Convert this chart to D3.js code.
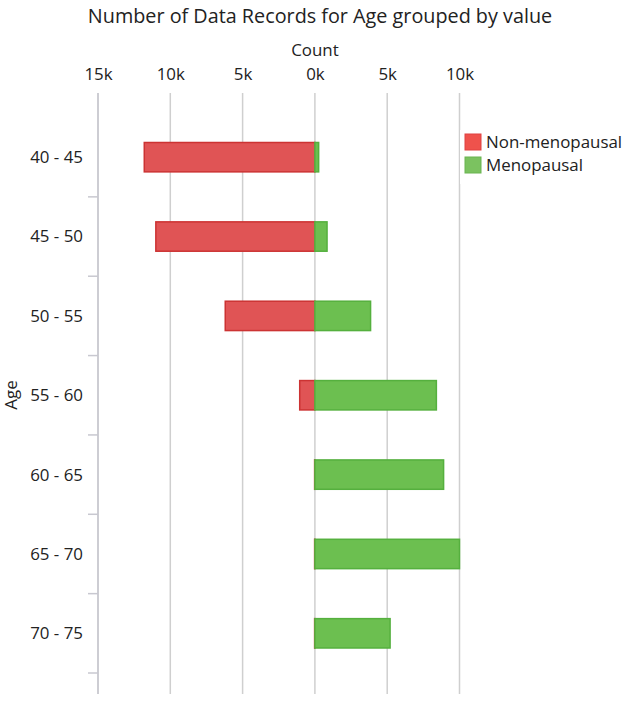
<!DOCTYPE html>
<html><head><meta charset="utf-8">
<script src="https://cdn.jsdelivr.net/npm/d3@7"></script>
<style>body{margin:0;background:#fff;} svg{display:block;} text{font-family:"Open Sans",sans-serif;fill:#222;}</style>
</head><body>
<script>
const categories = ["40 - 45","45 - 50","50 - 55","55 - 60","60 - 65","65 - 70","70 - 75"];
const nonMenopausal = [11800, 11000, 6200, 1050, 20, 20, 20];
const menopausal = [260, 840, 3850, 8400, 8900, 10000, 5200];
const xTicks = [-15000, -10000, -5000, 0, 5000, 10000];
const seriesNames = ["Non-menopausal", "Menopausal"];

const W = 633, H = 702;
const FS = 16.9;
const svg = d3.select("body").append("svg").attr("width", W).attr("height", H);

const x = d3.scaleLinear().domain([-15000, 10000]).range([98, 459.5]);
const y = d3.scaleBand().domain(categories).range([117.5, 673]).paddingInner(0.63).paddingOuter(0.315);
const axisTop = 93, axisBottom = 694;

// gridlines
svg.append("g").selectAll("line").data(xTicks).join("line")
  .attr("x1", d => x(d)).attr("x2", d => x(d))
  .attr("y1", axisTop).attr("y2", axisBottom)
  .attr("stroke", "#cfcfcf").attr("stroke-width", 1.5);

// top axis labels
const xAxis = d3.axisTop(x).tickValues(xTicks).tickSize(0).tickPadding(0)
  .tickFormat(d => Math.abs(d) / 1000 + "k");
const gx = svg.append("g").attr("transform", "translate(0,80)").call(xAxis);
gx.select(".domain").remove();
gx.selectAll("text").attr("font-size", FS).attr("fill", "#222").attr("dy", 0)
  .style("font-family", "'Open Sans', sans-serif");

svg.append("text").attr("x", x(0)).attr("y", 56).attr("text-anchor", "middle")
  .attr("font-size", FS).text("Count");

// title
svg.append("text").attr("x", 320).attr("y", 23).attr("text-anchor", "middle")
  .attr("font-size", 19.8).text("Number of Data Records for Age grouped by value");

// left axis
svg.append("line").attr("x1", 98).attr("x2", 98).attr("y1", axisTop).attr("y2", axisBottom)
  .attr("stroke", "#c8c8d0").attr("stroke-width", 1.5);
const step = y.step();
svg.append("g").selectAll("line").data(categories).join("line")
  .attr("x1", 88).attr("x2", 98)
  .attr("y1", d => y(d) + y.bandwidth() / 2 + step / 2)
  .attr("y2", d => y(d) + y.bandwidth() / 2 + step / 2)
  .attr("stroke", "#c8c8d0").attr("stroke-width", 1.5);
svg.append("g").selectAll("text").data(categories).join("text")
  .attr("x", 83).attr("y", d => y(d) + y.bandwidth() / 2)
  .attr("dy", "0.35em").attr("text-anchor", "end").attr("font-size", FS).text(d => d);

svg.append("text").attr("transform", "translate(17,395) rotate(-90)")
  .attr("text-anchor", "middle").attr("font-size", FS).text("Age");

// bars
const red = "#e05455", redStroke = "#cc3333", green = "#6cbf50", greenStroke = "#55b03e";
svg.append("g").selectAll("rect").data(categories).join("rect")
  .attr("x", (d, i) => x(-nonMenopausal[i])).attr("y", d => y(d))
  .attr("width", (d, i) => x(0) - x(-nonMenopausal[i])).attr("height", y.bandwidth())
  .attr("fill", red).attr("stroke", redStroke).attr("stroke-width", 1.5);
svg.append("g").selectAll("rect").data(categories).join("rect")
  .attr("x", x(0)).attr("y", d => y(d))
  .attr("width", (d, i) => x(menopausal[i]) - x(0)).attr("height", y.bandwidth())
  .attr("fill", green).attr("stroke", greenStroke).attr("stroke-width", 1.5);

// legend
const lg = svg.append("g");
lg.append("rect").attr("x", 460).attr("y", 130).attr("width", 173).attr("height", 54).attr("fill", "#fff");
const legColors = ["#ef524c", "#7bc260"];
seriesNames.forEach((n, i) => {
  lg.append("rect").attr("x", 465).attr("y", 134 + i * 23).attr("width", 16).attr("height", 16)
    .attr("fill", legColors[i]).attr("stroke", i ? "#6ab450" : "#e04040").attr("stroke-width", 1);
  lg.append("text").attr("x", 486).attr("y", 142 + i * 23).attr("dy", "0.35em")
    .attr("font-size", FS).text(n);
});
</script>
</body></html>
